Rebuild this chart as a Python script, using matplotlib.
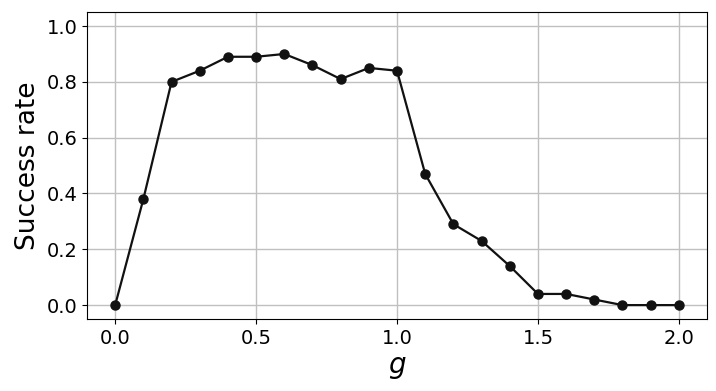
import matplotlib
matplotlib.use('Agg')
import matplotlib.pyplot as plt

g_values = [0.0, 0.1, 0.2, 0.3, 0.4, 0.5, 0.6, 0.7, 0.8, 0.9, 1.0,
            1.1, 1.2, 1.3, 1.4, 1.5, 1.6, 1.7, 1.8, 1.9, 2.0]
success_rate = [0.0, 0.38, 0.80, 0.84, 0.89, 0.89, 0.90, 0.86, 0.81, 0.85, 0.84,
                0.47, 0.29, 0.23, 0.14, 0.04, 0.04, 0.02, 0.0, 0.0, 0.0]

fig = plt.figure(figsize=(7.16, 3.91), dpi=100)
ax = fig.add_axes([0.1215, 0.184, 0.866, 0.785])
ax.plot(g_values, success_rate, 'o-', color='#111111', markersize=6.5, linewidth=1.6)
ax.set_xlim(-0.1, 2.1)
ax.set_ylim(-0.05, 1.05)
ax.set_xticks([0.0, 0.5, 1.0, 1.5, 2.0])
ax.set_yticks([0.0, 0.2, 0.4, 0.6, 0.8, 1.0])
ax.tick_params(labelsize=14)
ax.grid(True, color='#c0c0c0', linewidth=1.0)
ax.set_axisbelow(True)
ax.set_xlabel('$g$', fontsize=20)
ax.set_ylabel('Success rate', fontsize=19)

fig.savefig('out.png', dpi=100)
